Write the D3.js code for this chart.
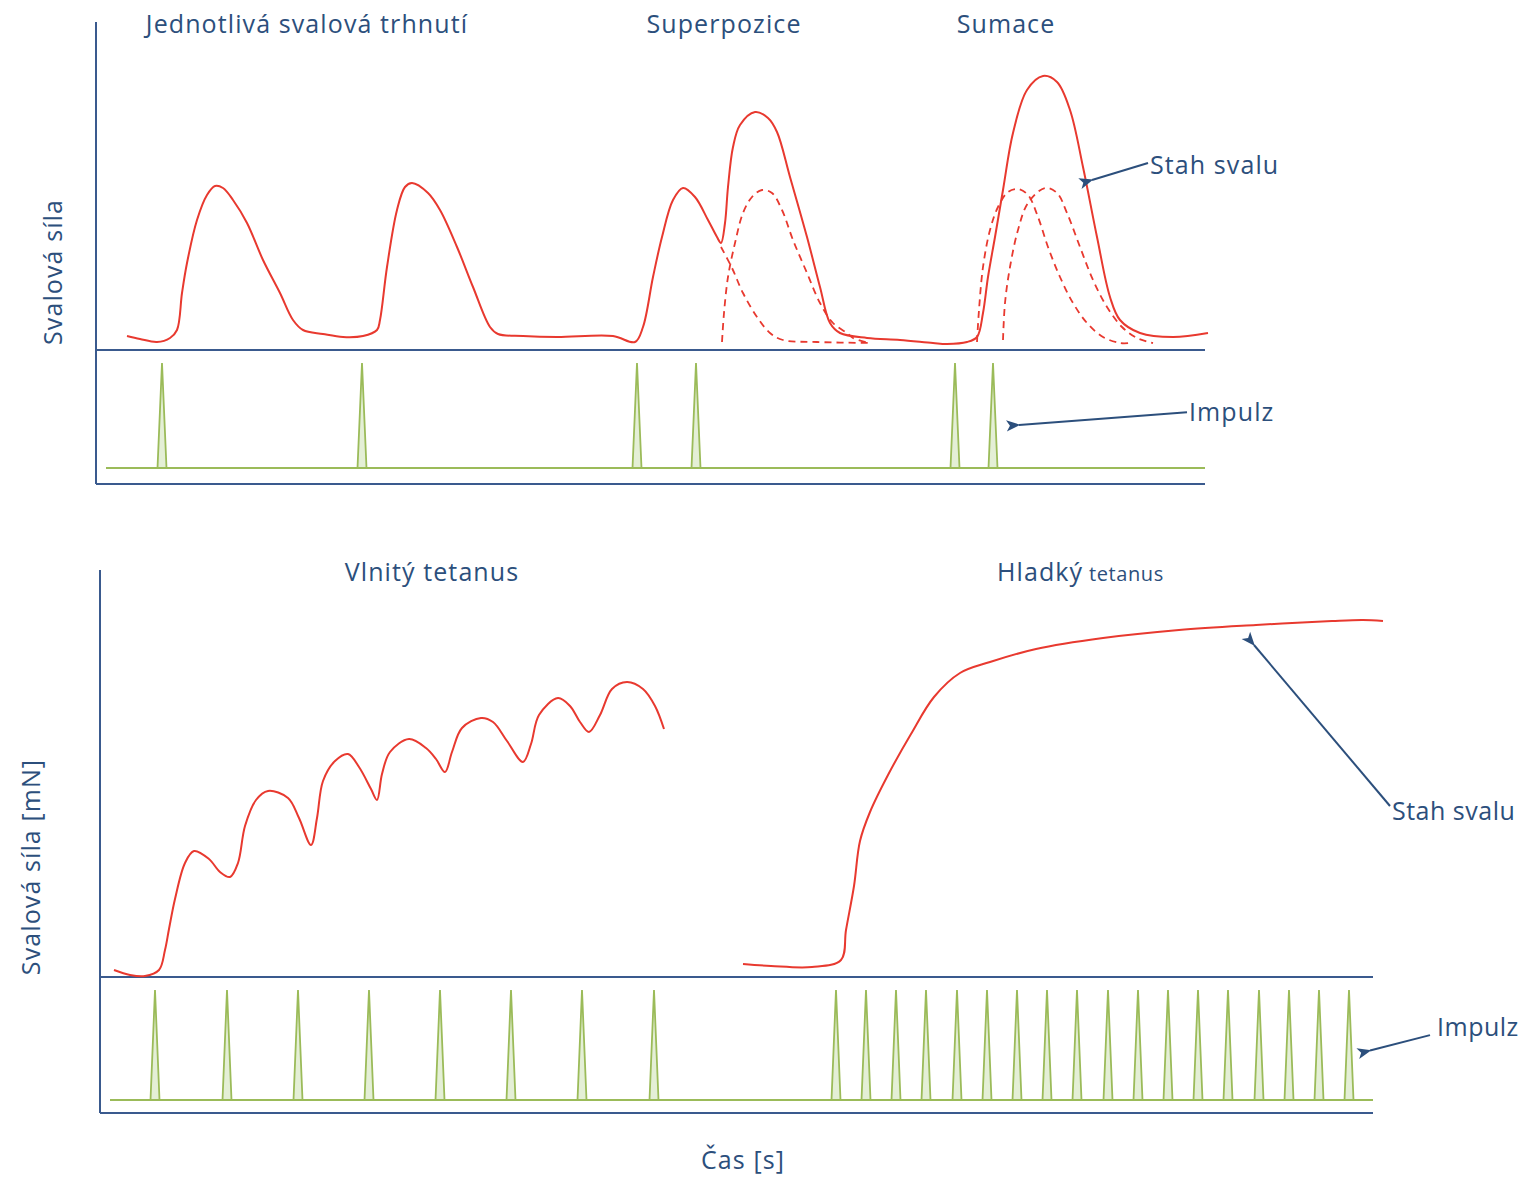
<!DOCTYPE html>
<meta charset="utf-8">
<head>
<script src="https://d3js.org/d3.v7.min.js"></script>
<style>
  body { margin: 0; background: #fff; }
  text { font-family: "Open Sans", sans-serif; fill: #2c4f7c; letter-spacing: 1.1px; }
</style>
</head>
<body>
<div id="chart"></div>
<script>

// ---- data: top panel (time units, force units) ----
var twitchSolid = [
  [31,14],[44,11],[61,8],[74,12],[81,20],[86,57],[91,87],[101,130],[111,155],[119,164],[127,162],
  [137,150],[151,127],[167,90],[184,57],[197,30],[207,20],[227,16],[247,13],[267,14],[281,20],
  [284,30],[291,83],[301,140],[309,163],[316,167],[332,157],[344,140],[361,103],[377,63],[394,23],
  [402,16],[427,14],[461,13],[517,14],[539,8],[547,23],[557,73],[566,113],[577,150],[587,162],
  [599,153],[612,130],[621,113],[625,107],[629,127],[632,163],[637,203],[644,225],[659,238],
  [672,232],[681,218],[694,173],[711,113],[724,63],[734,27],[744,17],[771,12],[804,10],[837,7],
  [851,6],[871,8],[881,13],[887,37],[892,73],[899,113],[907,160],[917,217],[931,260],[947,274],
  [961,268],[974,240],[987,183],[1001,113],[1014,53],[1024,30],[1044,17],[1077,13],[1112,17]
];
var superA = [[625,103],[636,82],[647,57],[661,33],[674,17],[687,10],[721,8],[774,7]];
var superB = [[626,8],[628,37],[632,73],[639,107],[647,137],[656,153],[666,160],[676,157],[686,140],
  [697,110],[711,77],[724,47],[737,27],[751,17],[757,12],[774,7]];
var sumA = [[881,8],[883,40],[887,83],[894,120],[902,143],[912,158],[922,161],[932,155],[942,133],
  [952,103],[964,73],[977,47],[991,27],[1007,13],[1024,7],[1034,7]];
var sumB = [[907,10],[909,47],[914,83],[922,120],[932,147],[949,162],[961,157],[971,137],[984,103],
  [997,70],[1011,43],[1026,23],[1041,12],[1057,7]];
var topImpulses = [66, 266, 541, 600, 859, 897];
var topTitles = [["Jednotlivá svalová trhnutí", 211], ["Superpozice", 628], ["Sumace", 910]];

// ---- data: bottom panel ----
var wavySolid = [
  [14,7],[30,2],[45,1],[59,7],[65,27],[69,48],[75,78],[85,114],[94,126],[109,118],[120,105],[130,100],
  [138,114],[145,151],[156,177],[168,186],[188,179],[199,159],[211,132],[217,159],[223,196],[235,216],
  [248,223],[259,210],[271,188],[277,177],[282,203],[290,225],[309,238],[326,229],[336,218],[345,205],
  [352,225],[362,249],[381,259],[393,255],[407,236],[423,215],[431,233],[439,262],[458,279],[470,271],
  [480,255],[489,245],[500,262],[512,288],[527,295],[543,288],[555,271],[564,248]
];
var smoothSolid = [
  [643,13],[671,11],[712,10],[741,17],[746,47],[754,91],[760,136],[770,165],[788,202],[811,243],
  [834,280],[860,304],[890,315],[936,328],[1003,339],[1079,347],[1156,352],[1232,356],[1263,357],[1283,356]
];
var wavyImpulses = [55, 127, 198, 269, 340, 411, 482, 554];
var smoothImpulses = [736, 766, 796, 826, 857, 887, 917, 947, 977, 1008, 1038, 1068, 1098, 1128, 1159, 1189, 1219, 1249];

var width = 1525, height = 1178;
var blue = "#3a5a8e", red = "#e8392f", green = "#9bbb59", greenFill = "#e4efd6", textBlue = "#2c4f7c";
var fs = 25;

var svg = d3.select("#chart").append("svg")
  .attr("width", width)
  .attr("height", height);

var defs = svg.append("defs");
defs.append("marker")
  .attr("id", "arrow")
  .attr("viewBox", "0 0 10 10")
  .attr("refX", 1).attr("refY", 5)
  .attr("markerWidth", 7).attr("markerHeight", 7)
  .attr("orient", "auto-start-reverse")
  .append("path")
  .attr("d", "M0,5 L10,1 L7.5,5 L10,9 Z")
  .attr("fill", textBlue);

function drawPanel(cfg) {
  var x = d3.scaleLinear().domain(cfg.xDomain).range([cfg.left, cfg.right]);
  var y = d3.scaleLinear().domain(cfg.yDomain).range([cfg.base, cfg.top]);
  var yi = d3.scaleLinear().domain([0, 1]).range([cfg.impBase, cfg.impTop]);
  var g = svg.append("g");

  var line = d3.line()
    .x(function(d) { return x(d[0]); })
    .y(function(d) { return y(d[1]); })
    .curve(d3.curveCatmullRom.alpha(0.5));

  // axes frame
  g.append("line").attr("x1", cfg.left).attr("x2", cfg.left).attr("y1", cfg.top).attr("y2", cfg.bottom)
    .attr("stroke", blue).attr("stroke-width", 2);
  g.append("line").attr("x1", cfg.left).attr("x2", cfg.right).attr("y1", cfg.base).attr("y2", cfg.base)
    .attr("stroke", blue).attr("stroke-width", 2);
  g.append("line").attr("x1", cfg.left).attr("x2", cfg.right).attr("y1", cfg.bottom).attr("y2", cfg.bottom)
    .attr("stroke", blue).attr("stroke-width", 2);

  // impulse baseline + spikes
  g.append("line").attr("x1", cfg.left + 10).attr("x2", cfg.right).attr("y1", yi(0)).attr("y2", yi(0))
    .attr("stroke", green).attr("stroke-width", 2);
  g.selectAll(".spike").data(cfg.impulses).enter().append("path")
    .attr("class", "spike")
    .attr("d", function(t) {
      return "M" + (x(t) - 4.5) + "," + yi(0) + "L" + x(t) + "," + yi(1) + "L" + (x(t) + 4.5) + "," + yi(0) + "Z";
    })
    .attr("fill", greenFill).attr("stroke", green).attr("stroke-width", 1.8);

  // dashed component twitches
  g.selectAll(".dash").data(cfg.dashed).enter().append("path")
    .attr("d", line).attr("fill", "none")
    .attr("stroke", red).attr("stroke-width", 1.8).attr("stroke-dasharray", "7,5");

  // solid contraction curves
  g.selectAll(".solid").data(cfg.solid).enter().append("path")
    .attr("d", line).attr("fill", "none")
    .attr("stroke", red).attr("stroke-width", 2);

  return {x: x, y: y, yi: yi, g: g};
}

function arrow(g, x1, y1, x2, y2) {
  g.append("line")
    .attr("x1", x1).attr("y1", y1).attr("x2", x2).attr("y2", y2)
    .attr("stroke", textBlue).attr("stroke-width", 2).attr("marker-end", "url(#arrow)");
}

// ---- top panel ----
var topP = drawPanel({
  xDomain: [0, 1109], yDomain: [0, 328],
  left: 96, right: 1205, top: 22, base: 350, bottom: 484,
  impBase: 468, impTop: 363,
  impulses: topImpulses,
  solid: [twitchSolid],
  dashed: [superA, superB, sumA, sumB]
});

topP.g.selectAll(".title").data(topTitles).enter().append("text")
  .attr("x", function(d) { return topP.x(d[1]); })
  .attr("y", 33)
  .attr("text-anchor", "middle")
  .attr("font-size", fs)
  .text(function(d) { return d[0]; });

topP.g.append("text")
  .attr("transform", "translate(62," + topP.y(78) + ") rotate(-90)")
  .attr("text-anchor", "middle").attr("font-size", fs)
  .text("Svalová síla");

// annotations (top)
arrow(topP.g, topP.x(1052), topP.y(187), topP.x(996), topP.y(170));
topP.g.append("text").attr("x", topP.x(1054)).attr("y", 174).attr("font-size", fs).text("Stah svalu");

arrow(topP.g, topP.x(1091), topP.yi(0.53), topP.x(923), topP.yi(0.41));
topP.g.append("text").attr("x", topP.x(1093)).attr("y", 421).attr("font-size", fs).text("Impulz");

// ---- bottom panel ----
var botP = drawPanel({
  xDomain: [0, 1273], yDomain: [0, 407],
  left: 100, right: 1373, top: 570, base: 977, bottom: 1113,
  impBase: 1100, impTop: 990,
  impulses: wavyImpulses.concat(smoothImpulses),
  solid: [wavySolid, smoothSolid],
  dashed: []
});

botP.g.append("text").attr("x", botP.x(332)).attr("y", 581).attr("text-anchor", "middle")
  .attr("font-size", fs).text("Vlnitý tetanus");
var hl = botP.g.append("text").attr("x", botP.x(897)).attr("y", 581).attr("font-size", fs);
hl.append("tspan").text("Hladký");
hl.append("tspan").attr("font-size", 20).style("letter-spacing", "0.6px").text(" tetanus");

botP.g.append("text")
  .attr("transform", "translate(40," + botP.y(110) + ") rotate(-90)")
  .attr("text-anchor", "middle").attr("font-size", fs)
  .text("Svalová síla [mN]");

botP.g.append("text").attr("x", botP.x(643)).attr("y", 1169).attr("text-anchor", "middle")
  .attr("font-size", fs).text("Čas [s]");

arrow(botP.g, botP.x(1290), botP.y(171), botP.x(1154), botP.y(332));
botP.g.append("text").attr("x", botP.x(1292)).attr("y", 820).attr("font-size", fs)
  .style("letter-spacing", "0.5px").text("Stah svalu");

arrow(botP.g, botP.x(1330), botP.yi(0.59), botP.x(1270), botP.yi(0.45));
botP.g.append("text").attr("x", botP.x(1337)).attr("y", 1036).attr("font-size", fs)
  .style("letter-spacing", "0.5px").text("Impulz");

</script>
</body>
